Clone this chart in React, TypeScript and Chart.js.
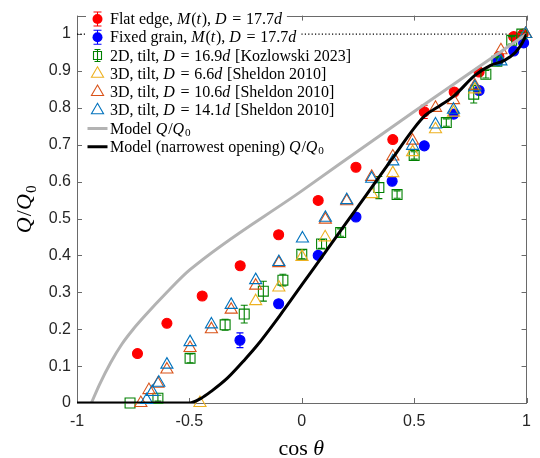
import React, { useEffect, useRef } from 'react';
import { Chart, registerables } from 'chart.js';

Chart.register(...registerables);

// ---------- axis ticks ----------
const xTicks = [-1, -0.5, 0, 0.5, 1];
const xTickLabels = ['-1', '-0.5', '0', '0.5', '1'];
const yTicks = [0, 0.1, 0.2, 0.3, 0.4, 0.5, 0.6, 0.7, 0.8, 0.9, 1];
const yTickLabels = ['0', '0.1', '0.2', '0.3', '0.4', '0.5', '0.6', '0.7', '0.8', '0.9', '1'];

// ---------- Flat edge, M(t), D = 17.7d ----------
const flatX = [-0.731, -0.600, -0.443, -0.274, -0.103, 0.073, 0.241, 0.405, 0.545, 0.678, 0.789, 0.877, 0.943, 0.985];
const flatY = [0.134, 0.216, 0.290, 0.372, 0.456, 0.549, 0.639, 0.714, 0.789, 0.843, 0.897, 0.939, 0.993, 1.0];
const flatErr = [0.005, 0.005, 0.005, 0.005, 0.005, 0.005, 0.005, 0.006, 0.018, 0.006, 0.006, 0.006, 0.005, 0.004];

// ---------- Fixed grain, M(t), D = 17.7d ----------
const fixedX = [-0.275, -0.103, 0.073, 0.241, 0.402, 0.545, 0.676, 0.789, 0.873, 0.943, 0.987];
const fixedY = [0.170, 0.269, 0.400, 0.504, 0.601, 0.697, 0.783, 0.847, 0.928, 0.954, 0.976];
const fixedErr = [0.02, 0.005, 0.005, 0.005, 0.005, 0.005, 0.005, 0.005, 0.005, 0.005, 0.005];

// ---------- 2D, tilt, D = 16.9d [Kozlowski 2023] ----------
const kozX = [-0.764, -0.640, -0.497, -0.341, -0.256, -0.171, -0.084, 0.000, 0.088, 0.173, 0.343, 0.424, 0.500, 0.643, 0.765, 0.819, 0.868, 0.934, 0.979];
const kozY = [0.0, 0.013, 0.121, 0.212, 0.241, 0.303, 0.333, 0.403, 0.431, 0.462, 0.584, 0.565, 0.671, 0.760, 0.837, 0.891, 0.926, 0.983, 1.0];
const kozErr = [0, 0.008, 0.012, 0.015, 0.024, 0.027, 0.016, 0.012, 0.012, 0.01, 0.03, 0.01, 0.01, 0.01, 0.024, 0.01, 0.01, 0.01, 0.005];

// ---------- 3D, tilt, D = 6.6d [Sheldon 2010] ----------
const sh66X = [-0.453, -0.205, -0.102, 0.001, 0.104, 0.311, 0.405, 0.493, 0.595, 0.675, 0.770, 0.996];
const sh66Y = [0.0, 0.276, 0.313, 0.396, 0.449, 0.566, 0.623, 0.680, 0.742, 0.787, 0.850, 1.0];

// ---------- 3D, tilt, D = 10.6d [Sheldon 2010] ----------
const sh106X = [-0.716, -0.680, -0.640, -0.600, -0.497, -0.402, -0.314, -0.205, -0.102, 0.105, 0.200, 0.311, 0.405, 0.493, 0.595, 0.675, 0.770, 0.886, 0.996];
const sh106Y = [0.0, 0.035, 0.052, 0.091, 0.149, 0.200, 0.253, 0.318, 0.379, 0.497, 0.547, 0.613, 0.668, 0.711, 0.800, 0.821, 0.860, 0.956, 1.0];

// ---------- 3D, tilt, D = 14.1d [Sheldon 2010] ----------
const sh141X = [-0.690, -0.665, -0.636, -0.600, -0.497, -0.402, -0.314, -0.205, -0.102, 0.003, 0.105, 0.200, 0.311, 0.405, 0.493, 0.595, 0.675, 0.770, 0.886, 0.996];
const sh141Y = [0.008, 0.030, 0.055, 0.104, 0.165, 0.213, 0.266, 0.333, 0.382, 0.446, 0.502, 0.550, 0.608, 0.655, 0.697, 0.755, 0.795, 0.856, 0.926, 1.0];

// ---------- Model Q/Q0 (gray) ----------
const modelX = [-0.936, -0.9, -0.85, -0.8, -0.75, -0.7, -0.6, -0.5, 0.0, 0.5, 1.0];
const modelY = [0.0, 0.05, 0.11, 0.16, 0.2, 0.235, 0.3, 0.36, 0.575, 0.79, 1.0];

// ---------- Model (narrowest opening) Q/Q0 (black) ----------
const narrowX = [-1, -0.5, -0.45, -0.4, -0.33, -0.25, -0.2, -0.1, 0.0, 0.1, 0.2, 0.3, 0.4, 0.5, 0.55, 0.6, 0.68, 0.77, 0.84, 0.9, 0.95, 0.98, 1.0];
const narrowY = [0, 0, 0.012, 0.033, 0.068, 0.12, 0.155, 0.235, 0.32, 0.405, 0.49, 0.575, 0.66, 0.745, 0.78, 0.80, 0.834, 0.888, 0.915, 0.928, 0.95, 0.975, 1.0];

// ---------- reference line Q/Q0 = 1 ----------
const refX = [-1, 1];
const refY = [1, 1];

const SERIF = '"Liberation Serif", "Times New Roman", serif';
const SANS = '"Liberation Sans", Arial, Helvetica, sans-serif';

const zip = (xs: number[], ys: number[]) => xs.map((x, i) => ({ x, y: ys[i] }));

type Seg = { t: string; italic: boolean; sub: boolean; space: boolean };
function parseRich(text: string): Seg[] {
  const segs: Seg[] = [];
  text.split('$').forEach((part, i) => {
    if (i % 2 === 0) {
      if (part) segs.push({ t: part, italic: false, sub: false, space: false });
      return;
    }
    let k = 0;
    while (k < part.length) {
      const ch = part[k];
      if (ch === '_') {
        segs.push({ t: part[k + 1], italic: false, sub: true, space: false });
        k += 2;
        continue;
      }
      if (ch === ' ') {
        segs.push({ t: ' ', italic: false, sub: false, space: true });
        k++;
        continue;
      }
      segs.push({ t: ch, italic: /[A-Za-z\u03b8]/.test(ch), sub: false, space: false });
      k++;
    }
  });
  return segs;
}
function drawRich(ctx: CanvasRenderingContext2D, text: string, x: number, y: number, size: number, draw: boolean) {
  let cx = x;
  for (const s of parseRich(text)) {
    if (s.space) { cx += size * 0.3; continue; }
    const fs = s.sub ? size * 0.7 : size;
    ctx.font = `${s.italic ? 'italic ' : ''}${fs}px ${SERIF}`;
    const w = ctx.measureText(s.t).width + (s.italic ? size * 0.05 : 0);
    if (draw) ctx.fillText(s.t, cx, s.sub ? y + size * 0.22 : y);
    cx += w;
  }
  return cx - x;
}

const errorBarPlugin = {
  id: 'errorBars',
  afterDatasetDraw(chart: any, args: any) {
    const ds = chart.data.datasets[args.index];
    if (!ds.errors) return;
    const ctx = chart.ctx;
    const ys = chart.scales.y;
    ctx.save();
    ctx.strokeStyle = ds.borderColor;
    ctx.lineWidth = 1.1;
    args.meta.data.forEach((pt: any, i: number) => {
      const e = ds.errors[i];
      if (!e) return;
      const v = ds.data[i].y;
      const t = ys.getPixelForValue(v + e);
      const b = ys.getPixelForValue(v - e);
      const cw = 3.5;
      ctx.beginPath();
      ctx.moveTo(pt.x, t); ctx.lineTo(pt.x, b);
      ctx.moveTo(pt.x - cw, t); ctx.lineTo(pt.x + cw, t);
      ctx.moveTo(pt.x - cw, b); ctx.lineTo(pt.x + cw, b);
      ctx.stroke();
    });
    ctx.restore();
  },
};

const framePlugin = {
  id: 'frame',
  beforeDatasetsDraw(chart: any) {
    const { ctx, chartArea: a, scales } = chart;
    ctx.save();
    ctx.strokeStyle = '#6a6a6a';
    ctx.lineWidth = 1;
    ctx.strokeRect(Math.round(a.left) + 0.5, Math.round(a.top) + 0.5, Math.round(a.right - a.left) - 1, Math.round(a.bottom - a.top));
    const tl = 5;
    ctx.beginPath();
    scales.x.ticks.forEach((t: any) => {
      const px = Math.round(scales.x.getPixelForValue(t.value)) + 0.5;
      ctx.moveTo(px, a.bottom); ctx.lineTo(px, a.bottom - tl);
      ctx.moveTo(px, a.top); ctx.lineTo(px, a.top + tl);
    });
    scales.y.ticks.forEach((t: any) => {
      const py = Math.round(scales.y.getPixelForValue(t.value)) + 0.5;
      ctx.moveTo(a.left, py); ctx.lineTo(a.left + tl, py);
      ctx.moveTo(a.right, py); ctx.lineTo(a.right - tl, py);
    });
    ctx.stroke();
    ctx.restore();
  },
};

function drawMarker(ctx: CanvasRenderingContext2D, kind: string, color: string, x: number, y: number) {
  ctx.save();
  ctx.strokeStyle = color;
  ctx.fillStyle = color;
  ctx.lineWidth = 1.1;
  if (kind === 'circleErr') {
    ctx.beginPath();
    ctx.moveTo(x, y - 7); ctx.lineTo(x, y + 7);
    ctx.moveTo(x - 4, y - 7); ctx.lineTo(x + 4, y - 7);
    ctx.moveTo(x - 4, y + 7); ctx.lineTo(x + 4, y + 7);
    ctx.stroke();
    ctx.beginPath(); ctx.arc(x, y, 5, 0, Math.PI * 2); ctx.fill();
  } else if (kind === 'squareErr') {
    ctx.beginPath();
    ctx.moveTo(x, y - 6); ctx.lineTo(x, y + 6);
    ctx.moveTo(x - 3, y - 6); ctx.lineTo(x + 3, y - 6);
    ctx.moveTo(x - 3, y + 6); ctx.lineTo(x + 3, y + 6);
    ctx.rect(x - 4, y - 4, 8, 8);
    ctx.stroke();
  } else if (kind === 'triangle') {
    const r = 7;
    ctx.beginPath();
    ctx.moveTo(x, y - r);
    ctx.lineTo(x + r * 0.866, y + r * 0.5);
    ctx.lineTo(x - r * 0.866, y + r * 0.5);
    ctx.closePath();
    ctx.stroke();
  } else if (kind === 'line') {
    ctx.lineWidth = 3;
    ctx.beginPath(); ctx.moveTo(x - 10, y); ctx.lineTo(x + 10, y); ctx.stroke();
  }
  ctx.restore();
}

const legendPlugin = {
  id: 'richLegend',
  afterDraw(chart: any) {
    const ctx = chart.ctx;
    const items = chart.data.datasets
      .filter((d: any) => d.legendRow !== undefined)
      .sort((a: any, b: any) => a.legendRow - b.legendRow);
    const x0 = 97.5;
    const tx = 110;
    const y0 = 19;
    const dy = 18.25;
    const size = 16;
    ctx.save();
    items.forEach((d: any, i: number) => {
      const y = y0 + i * dy;
      const w = drawRich(ctx, d.label, tx, y, size, false);
      ctx.fillStyle = '#ffffff';
      ctx.fillRect(86, y - 8, tx + w - 86 + 4, 16);
      drawMarker(ctx, d.legendKind, d.borderColor, x0, y);
      ctx.fillStyle = '#000000';
      ctx.textBaseline = 'middle';
      ctx.textAlign = 'left';
      drawRich(ctx, d.label, tx, y + 1, size, true);
    });
    ctx.restore();
  },
};

const titlePlugin = {
  id: 'axisTitles',
  afterDraw(chart: any) {
    const { ctx, chartArea: a } = chart;
    const size = 22;
    ctx.save();
    ctx.fillStyle = '#000';
    ctx.textBaseline = 'alphabetic';
    ctx.textAlign = 'left';
    const xt = 'cos $θ$';
    const w = drawRich(ctx, xt, 0, 0, size, false);
    drawRich(ctx, xt, (a.left + a.right) / 2 - w / 2, 455, size, true);
    const yt = '$Q/Q_0$';
    const wy = drawRich(ctx, yt, 0, 0, size, false);
    ctx.translate(31, (a.top + a.bottom) / 2);
    ctx.rotate(-Math.PI / 2);
    drawRich(ctx, yt, -wy / 2, 0, size, true);
    ctx.restore();
  },
};

export default function App() {
  const ref = useRef<HTMLCanvasElement>(null);
  useEffect(() => {
    if (!ref.current) return;
    const marker = (extra: any) => ({ showLine: false, clip: false, pointBorderWidth: 1.1, ...extra });
    const chart = new Chart(ref.current, {
      type: 'scatter',
      data: {
        datasets: [
          {
            label: 'Model (narrowest opening) $Q/Q_0$', data: zip(narrowX, narrowY), showLine: true,
            borderColor: '#000000', borderWidth: 3, pointRadius: 0, order: 0, cubicInterpolationMode: 'monotone',
            legendRow: 7, legendKind: 'line',
          },
          {
            label: 'Model $Q/Q_0$', data: zip(modelX, modelY), showLine: true,
            borderColor: '#b3b3b3', borderWidth: 3, pointRadius: 0, order: 1, cubicInterpolationMode: 'monotone',
            legendRow: 6, legendKind: 'line',
          },
          marker({
            label: '3D, tilt, $D = 14.1d$ [Sheldon 2010]', data: zip(sh141X, sh141Y), pointStyle: 'triangle', pointRadius: 7,
            borderColor: '#0072BD', backgroundColor: 'rgba(0,0,0,0)', order: 2, legendRow: 5, legendKind: 'triangle',
          }),
          marker({
            label: '3D, tilt, $D = 10.6d$ [Sheldon 2010]', data: zip(sh106X, sh106Y), pointStyle: 'triangle', pointRadius: 7,
            borderColor: '#D95319', backgroundColor: 'rgba(0,0,0,0)', order: 3, legendRow: 4, legendKind: 'triangle',
          }),
          marker({
            label: '3D, tilt, $D = 6.6d$ [Sheldon 2010]', data: zip(sh66X, sh66Y), pointStyle: 'triangle', pointRadius: 7,
            borderColor: '#EDB120', backgroundColor: 'rgba(0,0,0,0)', order: 4, legendRow: 3, legendKind: 'triangle',
          }),
          marker({
            label: '2D, tilt, $D = 16.9d$ [Kozlowski 2023]', data: zip(kozX, kozY), pointStyle: 'rect', pointRadius: 7,
            borderColor: '#008000', backgroundColor: 'rgba(0,0,0,0)', order: 5, errors: kozErr, legendRow: 2, legendKind: 'squareErr',
          }),
          marker({
            label: 'Fixed grain, $M(t)$, $D = 17.7d$', data: zip(fixedX, fixedY), pointStyle: 'circle', pointRadius: 5,
            borderColor: '#0000ff', backgroundColor: '#0000ff', order: 6, errors: fixedErr, legendRow: 1, legendKind: 'circleErr',
          }),
          marker({
            label: 'Flat edge, $M(t)$, $D = 17.7d$', data: zip(flatX, flatY), pointStyle: 'circle', pointRadius: 5,
            borderColor: '#ff0000', backgroundColor: '#ff0000', order: 7, errors: flatErr, legendRow: 0, legendKind: 'circleErr',
          }),
          {
            label: 'Q/Q0 = 1', data: zip(refX, refY), showLine: true, borderColor: '#000000', borderWidth: 1.2,
            borderDash: [1.2, 2.2], pointRadius: 0, order: 9,
          },
        ] as any,
      },
      options: {
        responsive: false,
        animation: false,
        events: [],
        layout: { padding: { left: 0, right: 7, top: 3, bottom: 0 } },
        plugins: { legend: { display: false }, tooltip: { enabled: false } },
        scales: {
          x: {
            type: 'linear', min: -1, max: 1,
            afterBuildTicks: (s: any) => { s.ticks = xTicks.map((v) => ({ value: v })); },
            afterFit: (s: any) => { s.height = 55; },
            ticks: {
              callback: (_v: any, i: number) => xTickLabels[i],
              font: { family: SANS, size: 16 }, color: '#262626', padding: 9, maxRotation: 0, autoSkip: false,
            },
            grid: { display: false, drawTicks: false },
            border: { display: false },
          },
          y: {
            type: 'linear', min: 0, max: 1.05,
            afterBuildTicks: (s: any) => { s.ticks = yTicks.map((v) => ({ value: v })); },
            afterFit: (s: any) => { s.width = 77; },
            ticks: {
              callback: (_v: any, i: number) => yTickLabels[i],
              font: { family: SANS, size: 16 }, color: '#262626', padding: 6, autoSkip: false,
            },
            grid: { display: false, drawTicks: false },
            border: { display: false },
          },
        },
      } as any,
      plugins: [framePlugin, errorBarPlugin, legendPlugin, titlePlugin],
    });
    return () => chart.destroy();
  }, []);
  return (
    <div style={{ position: 'absolute', left: 0, top: 0, width: 540, height: 458, background: '#fff' }}>
      <canvas ref={ref} width={540} height={458} style={{ display: 'block' }} />
    </div>
  );
}
